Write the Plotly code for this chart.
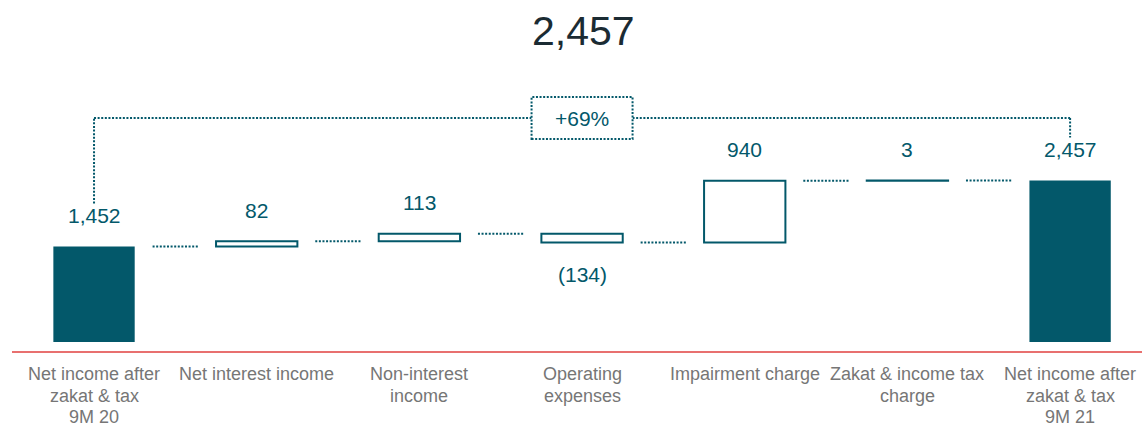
import plotly.graph_objects as go

# ---------------- data ----------------
categories = [
    "Net income after<br>zakat & tax<br>9M 20",
    "Net interest income",
    "Non-interest<br>income",
    "Operating<br>expenses",
    "Impairment charge",
    "Zakat & income tax<br>charge",
    "Net income after<br>zakat & tax<br>9M 21",
]
values = [1452, 82, 113, -134, 940, 3, 2457]
measures = ["total", "relative", "relative", "relative", "relative", "relative", "total"]
value_labels = ["1,452", "82", "113", "(134)", "940", "3", "2,457"]
headline = "2,457"
growth_label = "+69%"

# ---------------- style ----------------
TEAL = "#03586A"
GREY = "#767676"
RED = "#E8706F"
DARK = "#1B2B33"
FONT = "Liberation Sans, Arial, sans-serif"
DOT = "2px,1.6px"

W, H = 1142, 429
Y0, Y1 = -1325, 5205
X0, X1 = -0.578, 6.442
upp = (Y1 - Y0) / H          # data units per pixel (y)
xpp = (X1 - X0) / W          # data units per pixel (x)

# ---------------- compute waterfall ----------------
bases, heights, levels = [], [], []
running = 0
for v, m in zip(values, measures):
    if m == "total":
        base = 0
        running = v
    else:
        base = running
        running = running + v
    bases.append(base)
    heights.append(v)
    levels.append(running)

idx = list(range(len(values)))
tot_i = [i for i in idx if measures[i] == "total"]
rel_i = [i for i in idx if measures[i] == "relative"]

fig = go.Figure()
fig.add_trace(go.Bar(
    x=tot_i, y=[heights[i] for i in tot_i], base=[bases[i] for i in tot_i],
    width=0.5, marker=dict(color=TEAL, line=dict(color=TEAL, width=0)),
    hoverinfo="skip"))
fig.add_trace(go.Bar(
    x=rel_i, y=[heights[i] for i in rel_i], base=[bases[i] for i in rel_i],
    width=0.5, marker=dict(color="white", line=dict(color=TEAL, width=2)),
    hoverinfo="skip"))

shapes = []
annotations = []

# connectors
for i in idx[:-1]:
    shapes.append(dict(type="line", xref="x", yref="y",
                       x0=i + 0.5 - 0.14, x1=i + 0.5 + 0.14,
                       y0=levels[i], y1=levels[i],
                       line=dict(color=TEAL, width=2, dash=DOT)))

# value labels
for i in idx:
    lo = min(bases[i], bases[i] + heights[i])
    hi = max(bases[i], bases[i] + heights[i])
    if heights[i] >= 0:
        annotations.append(dict(x=i, y=hi, xref="x", yref="y", text=value_labels[i],
                                showarrow=False, yanchor="middle", yshift=31,
                                font=dict(size=21, color=TEAL, family=FONT)))
    else:
        annotations.append(dict(x=i, y=lo, xref="x", yref="y", text=value_labels[i],
                                showarrow=False, yanchor="middle", yshift=-32,
                                font=dict(size=21, color=TEAL, family=FONT)))

# category labels (one annotation per line for exact line spacing)
for i in idx:
    for k, line in enumerate(categories[i].split("<br>")):
        annotations.append(dict(x=i, y=0, xref="x", yref="y", text=line,
                                showarrow=False, yanchor="middle", borderpad=0,
                                yshift=-(32.5 + 21.5 * k),
                                font=dict(size=18, color=GREY, family=FONT)))

# baseline red line
shapes.append(dict(type="line", xref="paper", yref="y", x0=12 / W, x1=1,
                   y0=-10 * upp, y1=-10 * upp, line=dict(color=RED, width=2)))

# bracket
first, last = idx[0], idx[-1]
mid = (first + last) / 2
bracket_y = Y1 - 118 * upp
box_half_w = 50.5 * xpp
box_half_h = 21 * upp
line_style = dict(color=TEAL, width=2, dash=DOT)
shapes += [
    dict(type="line", xref="x", yref="y", x0=first, x1=first,
         y0=values[first] + 43 * upp, y1=bracket_y, line=line_style),
    dict(type="line", xref="x", yref="y", x0=first, x1=mid - box_half_w,
         y0=bracket_y, y1=bracket_y, line=line_style),
    dict(type="line", xref="x", yref="y", x0=mid + box_half_w, x1=last,
         y0=bracket_y, y1=bracket_y, line=line_style),
    dict(type="line", xref="x", yref="y", x0=last, x1=last,
         y0=bracket_y, y1=values[last] + 43 * upp, line=line_style),
    dict(type="rect", xref="x", yref="y", x0=mid - box_half_w, x1=mid + box_half_w,
         y0=bracket_y - box_half_h, y1=bracket_y + box_half_h, line=line_style,
         fillcolor="white"),
]
annotations.append(dict(x=mid, y=bracket_y, xref="x", yref="y", text=growth_label,
                        showarrow=False, yanchor="middle",
                        font=dict(size=21, color=TEAL, family=FONT)))

# headline
annotations.append(dict(x=583 / W, y=1 - 31 / H, xref="paper", yref="paper",
                        text=headline, showarrow=False, yanchor="middle",
                        font=dict(size=41, color=DARK, family=FONT)))

fig.update_layout(
    width=W, height=H, margin=dict(l=0, r=0, t=0, b=0),
    paper_bgcolor="white", plot_bgcolor="white", showlegend=False,
    barmode="overlay",
    xaxis=dict(range=[X0, X1], visible=False, fixedrange=True),
    yaxis=dict(range=[Y0, Y1], visible=False, fixedrange=True),
    shapes=shapes, annotations=annotations,
)

fig.write_html("out.html")
